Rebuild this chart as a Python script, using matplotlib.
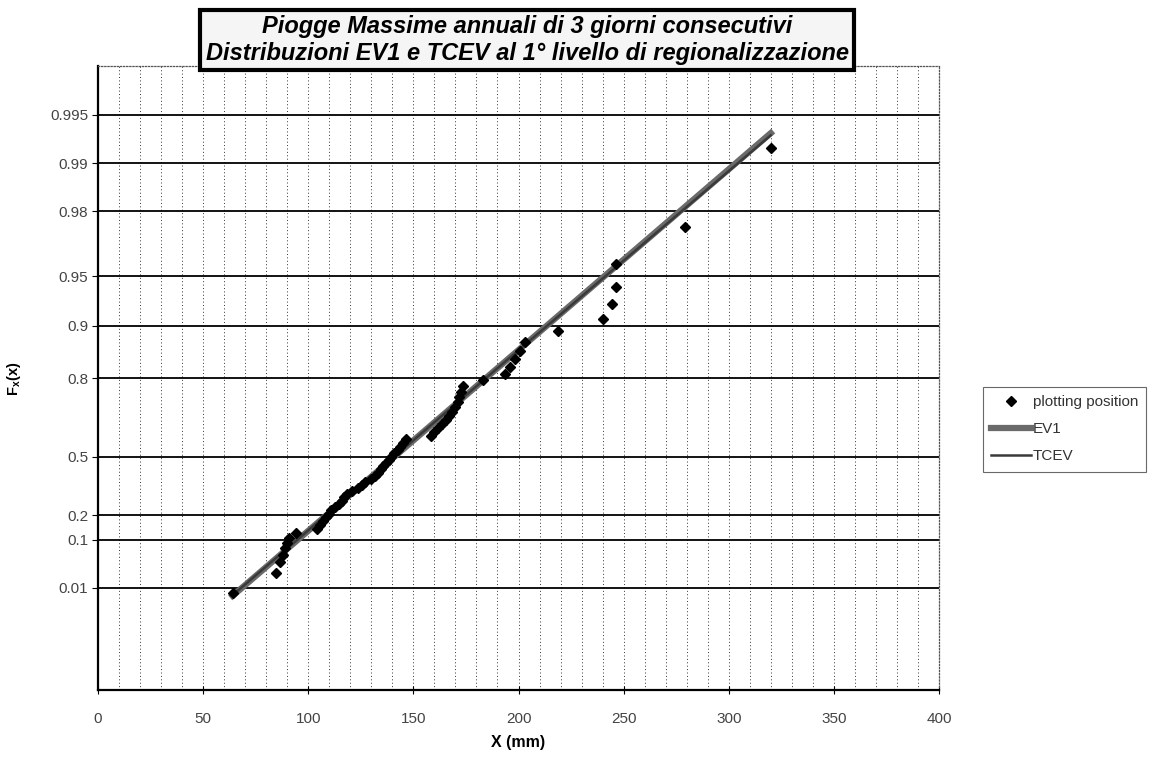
import numpy as np
import matplotlib
matplotlib.use('Agg')
import matplotlib.pyplot as plt
from matplotlib.ticker import FixedLocator, MultipleLocator, NullLocator

plt.rcParams['font.family'] = ['Liberation Sans', 'DejaVu Sans']

# plotting positions (x in mm, non-exceedance probability)
obs_x = [64, 84.5, 86.5, 88, 89, 90, 91, 94, 104, 105.5,
         107, 108.5, 110, 111, 112.5, 114.5, 116, 117, 118.5, 121,
         123.5, 125.5, 127, 130, 131.5, 133, 134.5, 135.5, 137, 138.5,
         139.5, 141, 142.5, 143.5, 145, 146.5, 158.5, 160, 161.5, 163.5,
         165.5, 167, 168.5, 170, 171, 171.5, 172.5, 173.5, 183, 193.5,
         196, 198.5, 200.5, 203, 219, 240, 244.5, 246.5, 246.5, 279,
         320]
obs_F = [0.007, 0.025, 0.042, 0.058, 0.075, 0.091, 0.107, 0.124, 0.140, 0.156,
         0.173, 0.189, 0.205, 0.222, 0.238, 0.254, 0.271, 0.287, 0.303, 0.320,
         0.336, 0.353, 0.369, 0.385, 0.402, 0.418, 0.435, 0.451, 0.467, 0.484,
         0.500, 0.516, 0.533, 0.549, 0.566, 0.582, 0.598, 0.615, 0.631, 0.647,
         0.664, 0.680, 0.696, 0.713, 0.729, 0.745, 0.762, 0.778, 0.795, 0.811,
         0.827, 0.844, 0.860, 0.876, 0.893, 0.909, 0.926, 0.942, 0.958, 0.975,
         0.992]

# fitted distributions
ev1_x = [64, 320]
ev1_F = [0.0057, 0.9935]
tcev_x = [64, 190, 320]
tcev_F = [0.0060, 0.824, 0.9933]

y_ticks = [0.01, 0.1, 0.2, 0.5, 0.8, 0.9, 0.95, 0.98, 0.99, 0.995]
y_labels = ['0.01', '0.1', '0.2', '0.5', '0.8', '0.9', '0.95', '0.98', '0.99', '0.995']


def gumbel_fwd(p):
    p = np.asarray(p, dtype=float)
    with np.errstate(all='ignore'):
        return -np.log(-np.log(p))


def gumbel_inv(y):
    y = np.asarray(y, dtype=float)
    with np.errstate(all='ignore'):
        return np.exp(-np.exp(-y))


fig = plt.figure(figsize=(11.56, 7.58), dpi=100)
ax = fig.add_axes([0.0848, 0.0897, 0.7275, 0.8232])
ax.set_yscale('function', functions=(gumbel_fwd, gumbel_inv))
ax.set_xlim(0, 400)
ax.set_ylim(float(gumbel_inv(-3)), float(gumbel_inv(6)))

ax.xaxis.set_major_locator(MultipleLocator(50))
ax.xaxis.set_minor_locator(MultipleLocator(10))
ax.yaxis.set_major_locator(FixedLocator(y_ticks))
ax.yaxis.set_minor_locator(NullLocator())
ax.set_yticklabels(y_labels)

ax.grid(True, which='both', axis='x', color='#333333', linestyle=(0, (1, 2.5)), linewidth=0.7)
ax.grid(True, which='major', axis='y', color='black', linestyle='-', linewidth=1.3)

ax.plot(ev1_x, ev1_F, color='#6a6a6a', linewidth=4.5, label='EV1', zorder=3)
ax.plot(tcev_x, tcev_F, color='#3a3a3a', linewidth=1.8, label='TCEV', zorder=3)
ax.plot(obs_x, obs_F, linestyle='none', marker='D', markersize=5, color='black',
        label='plotting position', zorder=4)

for s in ['left', 'bottom']:
    ax.spines[s].set_linewidth(1.6)
    ax.spines[s].set_color('black')
for s in ['top', 'right']:
    ax.spines[s].set_linewidth(0.9)
    ax.spines[s].set_color('#555555')
    ax.spines[s].set_linestyle((0, (1, 1.5)))

ax.tick_params(axis='x', which='major', direction='inout', length=6, pad=13,
               labelsize=11, labelcolor='#444444')
ax.tick_params(axis='x', which='minor', length=0)
ax.tick_params(axis='y', which='major', direction='out', length=4, pad=3,
               labelsize=11, labelcolor='#444444')

ax.set_xlabel('X (mm)', fontsize=11.5, fontweight='bold', labelpad=6)
fig.text(0.012, 0.5, r'F$_\mathregular{x}$(x)', rotation=90, fontsize=10.5,
         fontweight='bold', ha='center', va='center')

fig.text(527 / 1156, 1 - 40 / 758,
         'Piogge Massime annuali di 3 giorni consecutivi\n'
         'Distribuzioni EV1 e TCEV al 1° livello di regionalizzazione',
         ha='center', va='center', fontsize=17, fontweight='bold', style='italic',
         linespacing=1.2,
         bbox=dict(boxstyle='square,pad=0.22', facecolor='#f5f5f5',
                   edgecolor='black', linewidth=3), zorder=10)

handles, labels = ax.get_legend_handles_labels()
order = [2, 0, 1]
leg = fig.legend([handles[i] for i in order], [labels[i] for i in order],
                 loc='upper left', bbox_to_anchor=(0.8503, 0.4894),
                 fontsize=11, frameon=True, fancybox=False, handlelength=2.6,
                 handletextpad=0.1, labelspacing=0.85, borderpad=0.55,
                 borderaxespad=0)
leg.get_frame().set_edgecolor('#444444')
leg.get_frame().set_linewidth(0.8)
for t in leg.get_texts():
    t.set_color('#333333')

fig.savefig('out.png', dpi=100)
